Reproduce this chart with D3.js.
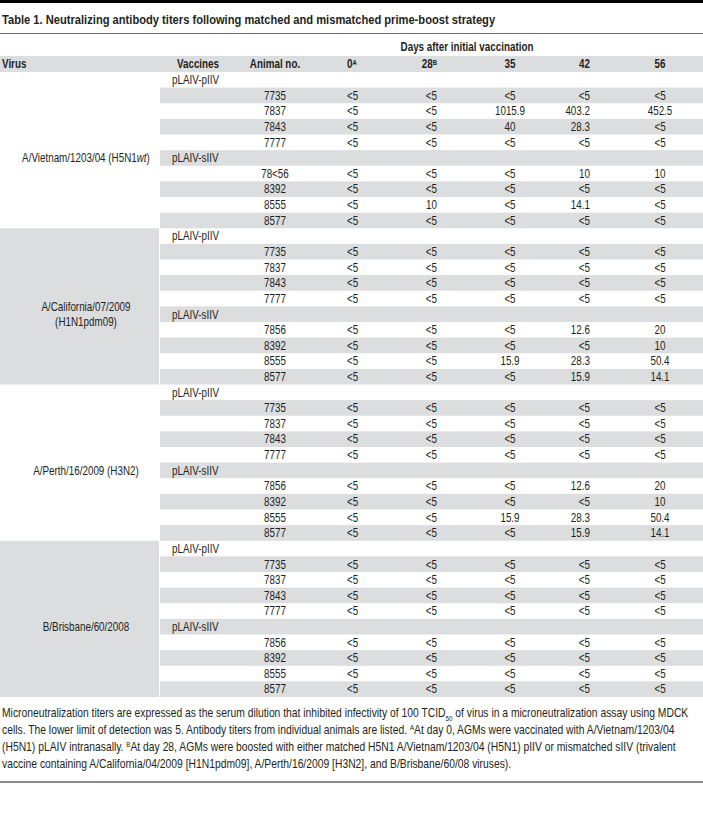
<!DOCTYPE html>
<html><head><meta charset="utf-8">
<script src="https://cdn.jsdelivr.net/npm/d3@7"></script>
<style>body{margin:0;background:#fff}svg{display:block}</style>
</head><body>
<script>
// ---------- data ----------
const title = "Table 1. Neutralizing antibody titers following matched and mismatched prime-boost strategy";
const spanHeader = "Days after initial vaccination";
const columnHeaders = ["Virus", "Vaccines", "Animal no."];
const days = ["0", "28", "35", "42", "56"];
const dayMarks = ["A", "B", "", "", ""];
const virusLines = [
  ["A/Vietnam/1203/04 (H5N1wt)"],
  ["A/California/07/2009", "(H1N1pdm09)"],
  ["A/Perth/16/2009 (H3N2)"],
  ["B/Brisbane/60/2008"]
];
const vaccines = ["pLAIV-pIIV", "pLAIV-sIIV"];
const animalsPIIV = ["7735", "7837", "7843", "7777"];
const animalsSIIVVietnam = ["78<56", "8392", "8555", "8577"];
const animalsSIIV = ["7856", "8392", "8555", "8577"];
const titersVietnam = [
  ["<5","<5","<5","<5","<5"],
  ["<5","<5","1015.9","403.2","452.5"],
  ["<5","<5","40","28.3","<5"],
  ["<5","<5","<5","<5","<5"],
  ["<5","<5","<5","10","10"],
  ["<5","<5","<5","<5","<5"],
  ["<5","10","<5","14.1","<5"],
  ["<5","<5","<5","<5","<5"]
];
const titersCalifornia = [
  ["<5","<5","<5","<5","<5"],
  ["<5","<5","<5","<5","<5"],
  ["<5","<5","<5","<5","<5"],
  ["<5","<5","<5","<5","<5"],
  ["<5","<5","<5","12.6","20"],
  ["<5","<5","<5","<5","10"],
  ["<5","<5","15.9","28.3","50.4"],
  ["<5","<5","<5","15.9","14.1"]
];
const titersPerth = [
  ["<5","<5","<5","<5","<5"],
  ["<5","<5","<5","<5","<5"],
  ["<5","<5","<5","<5","<5"],
  ["<5","<5","<5","<5","<5"],
  ["<5","<5","<5","12.6","20"],
  ["<5","<5","<5","<5","10"],
  ["<5","<5","15.9","28.3","50.4"],
  ["<5","<5","<5","15.9","14.1"]
];
const titersBrisbane = [
  ["<5","<5","<5","<5","<5"],
  ["<5","<5","<5","<5","<5"],
  ["<5","<5","<5","<5","<5"],
  ["<5","<5","<5","<5","<5"],
  ["<5","<5","<5","<5","<5"],
  ["<5","<5","<5","<5","<5"],
  ["<5","<5","<5","<5","<5"],
  ["<5","<5","<5","<5","<5"]
];
const footnoteLines = [
  [{t:"Microneutralization titers are expressed as the serum dilution that inhibited infectivity of 100 TCID"},{t:"50",sub:true},{t:" of virus in a microneutralization assay using MDCK"}],
  [{t:"cells. The lower limit of detection was 5. Antibody titers from individual animals are listed. "},{t:"A",sup:true},{t:"At day 0, AGMs were vaccinated with A/Vietnam/1203/04"}],
  [{t:"(H5N1) pLAIV intranasally. "},{t:"B",sup:true},{t:"At day 28, AGMs were boosted with either matched H5N1 A/Vietnam/1203/04 (H5N1) pIIV or mismatched sIIV (trivalent"}],
  [{t:"vaccine containing A/California/04/2009 [H1N1pdm09], A/Perth/16/2009 [H3N2], and B/Brisbane/60/08 viruses)."}]
];

// ---------- build rows ----------
const sIIVAnimals = [animalsSIIVVietnam, animalsSIIV, animalsSIIV, animalsSIIV];
const titers = [titersVietnam, titersCalifornia, titersPerth, titersBrisbane];
const rows = [];
virusLines.forEach((v, g) => {
  [animalsPIIV, sIIVAnimals[g]].forEach((animals, k) => {
    rows.push({group: g, type: "vaccine", label: vaccines[k]});
    animals.forEach((a, i) => rows.push({group: g, type: "animal", animal: a, values: titers[g][k * 4 + i]}));
  });
});
rows.forEach((r, i) => { r.index = i; r.inGroup = i % 10; });

// ---------- font ----------
function hasFont(name) {
  const c = document.createElement("canvas").getContext("2d");
  const s = "abcdefghijklmnopqrstuvwxyzABCDEFGH0123456789";
  c.font = "40px monospace"; const w0 = c.measureText(s).width;
  c.font = "40px '" + name + "', monospace"; return Math.abs(c.measureText(s).width - w0) > 0.5;
}
let FONT = "'Liberation Sans Narrow', sans-serif", SQUEEZE = 1;
if (!hasFont("Liberation Sans Narrow")) { FONT = "'Liberation Sans', Arial, sans-serif"; SQUEEZE = 0.82; }

// ---------- layout ----------
const W = 703, H = 824;
const INK = "#231f20", GRAY = "#dcdddf";
const FS = {body: 12, head: 12, title: 13.6, foot: 12.6};
const L = {headerTop: 56, bodyTop: 72, bodyBottom: 697, virusRight: 159, stripeLeft: 160,
           titleY: 19, ruleY: 33, spanY: 47, footTop: 712, footStep: 17, bottomRule: 781};
const svg = d3.select("body").append("svg").attr("width", W).attr("height", H)
  .style("font-family", FONT).style("fill", INK);

const y = d3.scaleBand().domain(d3.range(rows.length)).range([L.bodyTop, L.bodyBottom]);
const cols = ["virus","vaccine","animal","d0","d28","d35","d42","d56"];
const x = d3.scaleOrdinal().domain(cols).range([86, 172, 275, 347, 437, 510, 590, 660]);
const anchor = d3.scaleOrdinal().domain(cols).range(["middle","start","middle","start","end","middle","end","middle"]);
const dayCols = cols.slice(3);

function addText(parent, ax, cy, anc, parts, opts = {}) {
  const size = opts.size || FS.body;
  const t = parent.append("text").attr("x", ax).attr("y", cy + size * 0.36)
    .attr("text-anchor", anc).style("font-size", size + "px")
    .style("font-weight", opts.bold ? "bold" : "normal");
  parts.forEach(p => {
    const ts = t.append("tspan").text(p.t);
    if (p.italic) ts.style("font-style", "italic");
    if (p.sup) { ts.style("font-size", (size * 0.6) + "px").attr("baseline-shift", "super"); }
    if (p.sub) { ts.style("font-size", (size * 0.6) + "px").attr("baseline-shift", "sub"); }
  });
  if (SQUEEZE !== 1) t.attr("transform", `translate(${ax},0) scale(${SQUEEZE},1) translate(${-ax},0)`);
  return t;
}
function italicWT(s) {
  const m = s.match(/^(.*H5N1)(wt)(\).*)$/);
  return m ? [{t: m[1]}, {t: m[2], italic: true}, {t: m[3]}] : [{t: s}];
}

// top rules
svg.append("rect").attr("x", 0).attr("y", 0).attr("width", W).attr("height", 3).attr("fill", "#000");
addText(svg, 2, L.titleY, "start", [{t: title}], {bold: true, size: FS.title});
svg.append("rect").attr("x", 0).attr("y", L.ruleY).attr("width", W).attr("height", 1).attr("fill", "#6d6e71");
addText(svg, 467, L.spanY, "middle", [{t: spanHeader}], {bold: true, size: FS.head});

// header band
svg.append("rect").attr("x", 0).attr("y", L.headerTop).attr("width", W).attr("height", L.bodyTop - L.headerTop).attr("fill", GRAY);
const hy = (L.headerTop + L.bodyTop) / 2;
addText(svg, 2, hy, "start", [{t: columnHeaders[0]}], {bold: true, size: FS.head});
addText(svg, 198, hy, "middle", [{t: columnHeaders[1]}], {bold: true, size: FS.head});
addText(svg, x("animal"), hy, "middle", [{t: columnHeaders[2]}], {bold: true, size: FS.head});
days.forEach((d, i) => {
  const parts = [{t: d}]; if (dayMarks[i]) parts.push({t: dayMarks[i], sup: true});
  addText(svg, x(dayCols[i]), hy, anchor(dayCols[i]), parts, {bold: true, size: FS.head});
});

// row stripes
svg.append("g").selectAll("rect").data(rows.filter(r => r.inGroup % 2 === 1)).join("rect")
  .attr("x", L.stripeLeft).attr("width", W - L.stripeLeft)
  .attr("y", r => y(r.index)).attr("height", y.bandwidth()).attr("fill", GRAY);

// virus cells (groups 2 and 4 shaded)
const groups = d3.range(virusLines.length);
svg.append("g").selectAll("rect").data(groups.filter(g => g % 2 === 1)).join("rect")
  .attr("x", 0).attr("width", L.virusRight)
  .attr("y", g => y(g * 10)).attr("height", y.bandwidth() * 10).attr("fill", GRAY);

// virus labels, centred on row 5 of each group
groups.forEach(g => {
  const lines = virusLines[g];
  const cy = y(g * 10 + 5) + y.bandwidth() / 2;
  lines.forEach((ln, j) => {
    addText(svg, x("virus"), cy + (j - (lines.length - 1) / 2) * 16, "middle", italicWT(ln));
  });
});

// row contents
const body = svg.append("g");
rows.forEach(r => {
  const cy = y(r.index) + y.bandwidth() / 2;
  if (r.type === "vaccine") {
    addText(body, x("vaccine"), cy, "start", [{t: r.label}]);
  } else {
    addText(body, x("animal"), cy, "middle", [{t: r.animal}]);
    r.values.forEach((v, i) => addText(body, x(dayCols[i]), cy, anchor(dayCols[i]), [{t: v}]));
  }
});

// footnote
footnoteLines.forEach((parts, i) => addText(svg, 2, L.footTop + i * L.footStep, "start", parts, {size: FS.foot}));
svg.append("rect").attr("x", 0).attr("y", L.bottomRule).attr("width", W).attr("height", 2).attr("fill", "#8a8b8d");
</script>
</body></html>
